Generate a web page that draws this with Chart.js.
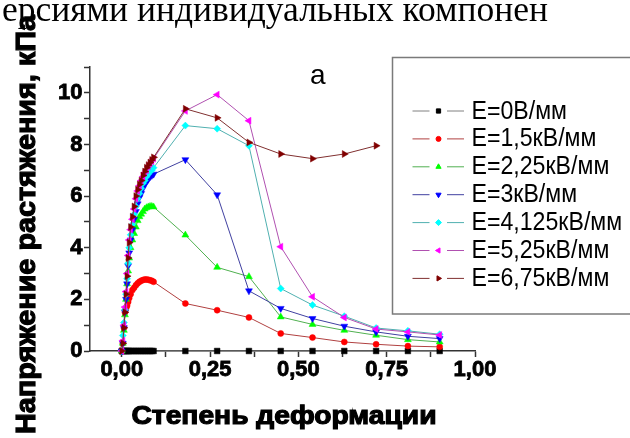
<!DOCTYPE html>
<html>
<head>
<meta charset="utf-8">
<script src="https://cdn.jsdelivr.net/npm/chart.js@4"></script>
<style>
  html, body { margin: 0; padding: 0; background: #fff; }
  canvas { display: block; }
</style>
</head>
<body>
<canvas id="stressChart" width="630" height="438"></canvas>
<script>
(() => {
    const strain = [0, 0.003, 0.006, 0.009, 0.012, 0.015, 0.018, 0.021, 0.025, 0.03, 0.035, 0.04, 0.045, 0.05, 0.055, 0.06, 0.065, 0.07, 0.075, 0.08, 0.085, 0.09,
        0.18, 0.27, 0.36, 0.45, 0.54, 0.63, 0.72, 0.81, 0.90];

    const stressE0 = [0, 0, 0, 0, 0, 0, 0, 0, 0, 0, 0, 0, 0, 0, 0, 0, 0, 0, 0, 0, 0, 0,
        0, 0, 0, 0, 0, 0, 0, 0, 0];
    const stressE1_5 = [0, 0.3, 0.9, 1.5, 1.65, 1.75, 1.9, 2.05, 2.2, 2.36, 2.45, 2.55, 2.62, 2.68, 2.72, 2.75, 2.77, 2.77, 2.76, 2.74, 2.72, 2.68,
        1.84, 1.58, 1.30, 0.68, 0.52, 0.35, 0.26, 0.19, 0.16];
    const stressE2_25 = [0, 0.3, 0.8, 1.4, 2.0, 2.6, 3.1, 3.6, 4.0, 4.3, 4.55, 4.8, 5.05, 5.2, 5.3, 5.4, 5.5, 5.55, 5.58, 5.6, 5.6, 5.58,
        4.49, 3.24, 2.88, 1.32, 1.03, 0.80, 0.61, 0.44, 0.35];
    const stressE3 = [0, 0.3, 0.9, 1.5, 2.0, 2.6, 3.3, 3.8, 4.3, 4.7, 5.1, 5.4, 5.7, 5.95, 6.1, 6.3, 6.45, 6.55, 6.65, 6.75, 6.8, 6.85,
        7.41, 6.05, 2.33, 1.65, 1.26, 0.96, 0.74, 0.57, 0.48];
    const stressE4_125 = [0, 0.6, 1.1, 1.6, 2.2, 2.8, 3.4, 4.0, 4.5, 4.9, 5.3, 5.6, 5.9, 6.1, 6.3, 6.5, 6.6, 6.75, 6.85, 6.95, 7.0, 7.1,
        8.73, 8.61, 7.95, 2.42, 1.78, 1.35, 0.89, 0.78, 0.65];
    const stressE5_25 = [0, 0.4, 1.0, 1.7, 2.3, 3.0, 3.7, 4.3, 4.7, 5.1, 5.5, 5.9, 6.2, 6.4, 6.6, 6.75, 6.9, 7.0, 7.15, 7.25, 7.35, 7.45,
        9.30, 9.93, 8.92, 4.04, 2.10, 1.30, 0.85, 0.74, 0.62];
    const stressE6_75 = [0, 0.3, 0.9, 1.5, 2.2, 2.9, 3.6, 4.2, 4.8, 5.2, 5.6, 6.0, 6.25, 6.45, 6.6, 6.8, 6.95, 7.1, 7.2, 7.3, 7.4, 7.5,
        9.38, 9.03, 8.08, 7.63, 7.45, 7.63, 7.95, null, null];

    const seriesLabels = ['E=0В/мм', 'E=1,5кВ/мм', 'E=2,25кВ/мм', 'E=3кВ/мм', 'E=4,125кВ/мм', 'E=5,25кВ/мм', 'E=6,75кВ/мм'];
    const seriesValues = [stressE0, stressE1_5, stressE2_25, stressE3, stressE4_125, stressE5_25, stressE6_75];

    const xTicks = [0, 0.125, 0.25, 0.375, 0.5, 0.625, 0.75, 0.875, 1];
    const yTicks = [0, 1, 2, 3, 4, 5, 6, 7, 8, 9, 10, 11];

    const xTitle = 'Степень деформации';
    const yTitle = 'Напряжение растяжения, кПа';
    const headerText = 'ерсиями индивидуальных компонен';
    const panelLabel = 'a';

    const SANS = '"Liberation Sans", Arial, sans-serif';

    const styles = [
        { line: '#808080', fill: '#000000', shape: 'rect', rotation: 0, radius: 4 },
        { line: '#b04040', fill: '#ff0000', shape: 'circle', rotation: 0, radius: 3 },
        { line: '#50b050', fill: '#00ff00', shape: 'triangle', rotation: 0, radius: 4 },
        { line: '#4040a0', fill: '#0000ff', shape: 'triangle', rotation: 180, radius: 4 },
        { line: '#50b0b0', fill: '#00ffff', shape: 'rectRot', rotation: 0, radius: 3.5 },
        { line: '#b050b0', fill: '#ff00ff', shape: 'triangle', rotation: 270, radius: 4 },
        { line: '#803030', fill: '#800000', shape: 'triangle', rotation: 90, radius: 4 },
    ];

    const datasets = seriesValues.map((values, i) => ({
        label: seriesLabels[i],
        data: values.map((y, k) => ({ x: strain[k], y })),
        borderColor: styles[i].line,
        borderWidth: 1,
        pointStyle: styles[i].shape,
        pointRotation: styles[i].rotation,
        pointRadius: styles[i].radius,
        pointBackgroundColor: styles[i].fill,
        pointBorderColor: styles[i].fill,
        pointBorderWidth: 0.5,
        tension: 0,
        fill: false,
        clip: false,
        spanGaps: false,
        order: 6 - i,
    }));

    const drawSqueezed = (ctx, text, font, x, y, width, stroke) => {
        ctx.save();
        ctx.font = font;
        const natural = ctx.measureText(text).width;
        ctx.translate(x, y);
        ctx.scale(width / natural, 1);
        ctx.textAlign = 'left';
        ctx.textBaseline = 'alphabetic';
        ctx.fillText(text, 0, 0);
        if (stroke) {
            ctx.strokeStyle = ctx.fillStyle;
            ctx.lineWidth = stroke;
            ctx.strokeText(text, 0, 0);
        }
        ctx.restore();
    };

    // titles, panel letter, header line of the page and the framed legend
    const overlay = {
        id: 'overlay',
        afterDraw(chart) {
            const ctx = chart.ctx;
            ctx.save();
            ctx.fillStyle = '#000';

            ctx.font = '35.5px "Liberation Serif", "Times New Roman", serif';
            ctx.textBaseline = 'alphabetic';
            ctx.fillText(headerText, 2, 21);

            ctx.font = '28px ' + SANS;
            ctx.fillText(panelLabel, 310, 84);

            drawSqueezed(ctx, xTitle, 'bold 26px ' + SANS, 131.5, 423.5, 305, 1.2);

            ctx.save();
            ctx.translate(35, 434);
            ctx.rotate(-Math.PI / 2);
            drawSqueezed(ctx, yTitle, 'bold 28px ' + SANS, 0, 0, 419, 1.2);
            ctx.restore();

            ctx.strokeStyle = '#7a7a7a';
            ctx.lineWidth = 1.5;
            ctx.strokeRect(392.5, 57.5, 260, 256.5);

            seriesLabels.forEach((label, i) => {
                const y = 111 + i * 27.9;
                const st = styles[i];
                ctx.strokeStyle = st.line;
                ctx.lineWidth = 1;
                ctx.beginPath();
                ctx.moveTo(412.5, y);
                ctx.lineTo(429.5, y);
                ctx.moveTo(447, y);
                ctx.lineTo(464, y);
                ctx.stroke();

                ctx.fillStyle = st.fill;
                ctx.strokeStyle = st.fill;
                Chart.helpers.drawPoint(ctx, {
                    pointStyle: st.shape,
                    rotation: st.rotation,
                    radius: st.shape === 'circle' ? 2.5 : 3,
                    borderWidth: 0.5,
                }, 438.5, y);

                ctx.fillStyle = '#000';
                ctx.font = '26px ' + SANS;
                const w = ctx.measureText(label).width;
                drawSqueezed(ctx, label, '26px ' + SANS, 471.5, y + 7.5, w * 0.89);
            });
            ctx.restore();
        },
    };

    const tickFont = { family: SANS, size: 22, weight: 'bold' };

    new Chart(document.getElementById('stressChart').getContext('2d'), {
        type: 'line',
        data: { datasets },
        options: {
            responsive: false,
            animation: false,
            devicePixelRatio: 1,
            layout: { padding: { top: 67, right: 155, bottom: 0, left: 0 } },
            plugins: {
                legend: { display: false },
                title: { display: false },
                tooltip: { enabled: false },
            },
            scales: {
                x: {
                    type: 'linear',
                    min: -0.09,
                    max: 1,
                    afterBuildTicks(scale) {
                        scale.ticks = xTicks.map((value) => ({ value }));
                    },
                    afterFit(scale) {
                        scale.height = 87;
                    },
                    grid: { drawOnChartArea: false, tickLength: 6, tickColor: '#333', tickWidth: 1.5 },
                    border: { color: '#333', width: 1.5 },
                    ticks: {
                        autoSkip: false,
                        maxRotation: 0,
                        padding: 0,
                        color: '#000',
                        textStrokeColor: '#000',
                        textStrokeWidth: 0.8,
                        font: tickFont,
                        callback(value) {
                            const q = value * 4;
                            return Math.abs(q - Math.round(q)) < 1e-9 ? value.toFixed(2).replace('.', ',') : '';
                        },
                    },
                },
                y: {
                    min: 0,
                    max: 11,
                    afterBuildTicks(scale) {
                        scale.ticks = yTicks.map((value) => ({ value }));
                    },
                    afterFit(scale) {
                        scale.width = 90;
                    },
                    grid: { drawOnChartArea: false, tickLength: 6, tickColor: '#333', tickWidth: 1.5 },
                    border: { color: '#333', width: 1.5 },
                    ticks: {
                        autoSkip: false,
                        padding: 1.5,
                        color: '#000',
                        textStrokeColor: '#000',
                        textStrokeWidth: 0.8,
                        font: tickFont,
                        callback(value) {
                            return value % 2 === 0 ? String(value) : '';
                        },
                    },
                },
            },
        },
        plugins: [overlay],
    });
})();
</script>
</body>
</html>
